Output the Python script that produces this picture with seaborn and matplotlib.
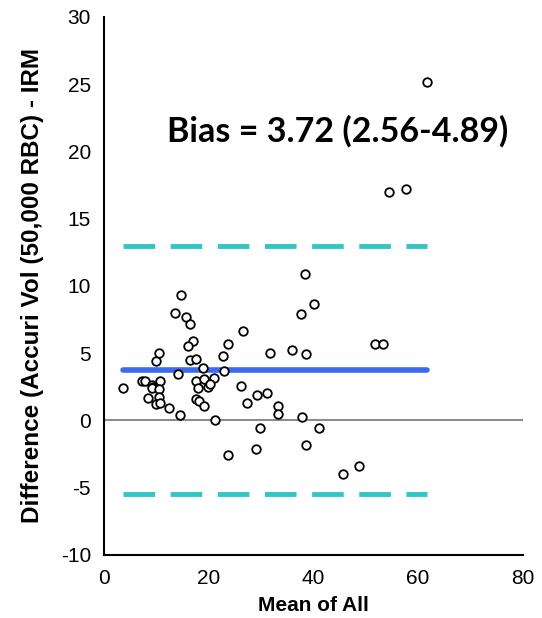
import matplotlib
matplotlib.use("Agg")
import matplotlib.pyplot as plt
import seaborn as sns
import pandas as pd
import numpy as np

mean_of_all = [3.64, 7.31, 7.82, 10.72, 9.15, 9.45, 9.34, 10.59, 8.50, 10.59,
               9.96, 10.72, 12.49, 14.55, 14.19, 9.96, 10.65, 14.71, 13.62, 15.79,
               16.41, 17.13, 16.07, 16.51, 17.61, 18.98, 22.73, 22.92, 23.68, 26.66,
               17.69, 19.07, 21.10, 17.99, 19.89, 20.30, 26.28, 17.69, 18.24, 19.18,
               27.42, 21.21, 23.68, 29.22, 31.08, 33.36, 33.30, 37.80, 29.75, 41.08,
               29.03, 38.56, 45.73, 48.80, 51.84, 53.23, 54.50, 57.72, 61.76, 38.43,
               40.19, 37.61, 31.73, 35.90, 38.56]
difference = [2.42, 2.97, 2.97, 2.97, 2.64, 2.51, 2.39, 2.32, 1.64, 1.78,
              1.25, 1.28, 0.93, 0.41, 3.43, 4.42, 4.98, 9.33, 7.97, 7.66,
              7.17, 5.90, 5.55, 4.50, 4.57, 3.93, 4.80, 3.70, 5.67, 6.68,
              2.90, 3.07, 3.14, 2.39, 2.51, 2.69, 2.59, 1.62, 1.45, 1.09,
              1.28, 0.00, -2.54, 1.86, 2.02, 1.10, 0.46, 0.28, -0.54, -0.54,
              -2.12, -1.82, -4.01, -3.38, 5.69, 5.69, 17.01, 17.21, 25.19, 10.87,
              8.64, 7.90, 5.02, 5.22, 4.94]
bias = 3.72
loa_upper = 12.95
loa_lower = -5.50
bias_text = "Bias = 3.72 (2.56-4.89)"
x_ticks = [0, 20, 40, 60, 80]
y_ticks = [-10, -5, 0, 5, 10, 15, 20, 25, 30]

df = pd.DataFrame({"mean": mean_of_all, "diff": difference})

sns.set_style("white")
plt.rcParams['font.family'] = ['Liberation Sans', 'DejaVu Sans']
plt.rcParams['axes.unicode_minus'] = False

fig = plt.figure(figsize=(5.42, 6.18), dpi=100)
ax = fig.add_axes([0.191, 0.102, 0.774, 0.8705])

xmin, xmax = min(mean_of_all), max(mean_of_all)
ax.axhline(0, color="#8c8c8c", lw=1.5, zorder=1)
ax.plot([xmin, xmax], [bias, bias], color="#3A6BF0", lw=4, solid_capstyle="round", zorder=2)
ax.plot([xmin, xmax], [loa_upper, loa_upper], color="#33C6C6", lw=3.5,
        dashes=(6.5, 3.2), zorder=2)
ax.plot([xmin, xmax], [loa_lower, loa_lower], color="#33C6C6", lw=3.5,
        dashes=(6.5, 3.2), zorder=2)

sns.scatterplot(data=df, x="mean", y="diff", ax=ax, marker="o", s=38,
                facecolor="white", edgecolor="black", linewidth=1.3, zorder=3)

ax.text(44.7, 21.5, bias_text, ha="center", va="center", fontsize=24.5,
        fontweight="bold", color="black", family=["Lato", "DejaVu Sans"])

ax.set_xlim(0, 80)
ax.set_ylim(-10, 30)
ax.set_xticks(x_ticks)
ax.set_yticks(y_ticks)
ax.tick_params(axis="both", labelsize=15, direction="out", length=5, width=1.5,
               color="black", labelcolor="black", pad=4)
ax.tick_params(axis="x", pad=5)
for s in ["top", "right"]:
    ax.spines[s].set_visible(False)
for s in ["left", "bottom"]:
    ax.spines[s].set_color("black")
    ax.spines[s].set_linewidth(1.5)

ax.set_xlabel("Mean of All", fontsize=15, fontweight="bold", color="black", labelpad=6)
ax.set_ylabel("Difference (Accuri Vol (50,000 RBC) - IRM", fontsize=17.5,
              fontweight="bold", color="black", labelpad=12)

fig.savefig("out.png", dpi=100)
